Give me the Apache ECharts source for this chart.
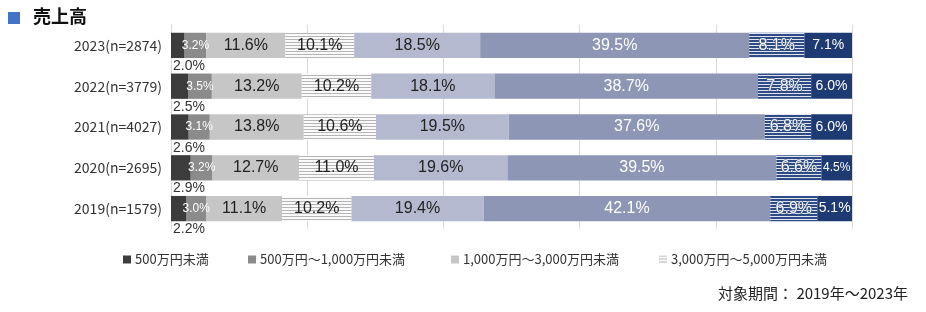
<!DOCTYPE html>
<html>
<head>
<meta charset="utf-8">
<style>
  html, body { margin: 0; padding: 0; background: #fff; }
  #main { width: 926px; height: 312px; }
</style>
</head>
<body>
<div id="main"></div>
<script src="https://cdn.jsdelivr.net/npm/echarts@6/dist/echarts.min.js"></script>
<script type="text/javascript">

    // 年ごとのカテゴリ
    var years = ['2023(n=2874)', '2022(n=3779)', '2021(n=4027)', '2020(n=2695)', '2019(n=1579)'];

    var seriesNames = ['500万円未満', '500万円～1,000万円未満', '1,000万円～3,000万円未満', '3,000万円～5,000万円未満',
        '5,000万円～1億円未満', '1億円～5億円未満', '5億円～10億円未満', '10億円以上'];

    var s1 = [2.0, 2.5, 2.6, 2.9, 2.2];
    var s2 = [3.2, 3.5, 3.1, 3.2, 3.0];
    var s3 = [11.6, 13.2, 13.8, 12.7, 11.1];
    var s4 = [10.1, 10.2, 10.6, 11.0, 10.2];
    var s5 = [18.5, 18.1, 19.5, 19.6, 19.4];
    var s6 = [39.5, 38.7, 37.6, 39.5, 42.1];
    var s7 = [8.1, 7.8, 6.8, 6.6, 6.9];
    var s8 = [7.1, 6.0, 6.0, 4.5, 5.1];

    // 横縞パターン
    function stripe(bg, line) {
        var c = document.createElement('canvas');
        c.width = 4; c.height = 3;
        var ctx = c.getContext('2d');
        ctx.fillStyle = bg;
        ctx.fillRect(0, 0, 4, 3);
        ctx.fillStyle = line;
        ctx.fillRect(0, 0, 4, 1);
        return { image: c, repeat: 'repeat' };
    }

    var FONT = '"Liberation Sans", Arial, sans-serif';
    var JP = '"Noto Sans CJK JP", sans-serif';

    function fmt(p) { return p.value.toFixed(1) + '%'; }

    function bar(name, data, color, label) {
        return {
            name: name,
            type: 'bar',
            stack: 'total',
            barWidth: '62%',
            data: data,
            itemStyle: { color: color },
            label: Object.assign({ show: true, formatter: fmt, fontFamily: FONT, fontSize: 16, color: '#222' }, label),
            emphasis: { disabled: true }
        };
    }

    var myChart = echarts.init(document.getElementById('main'));

    var legendLeft = [118, 243, 446, 654];
    var legends = [];
    for (var i = 0; i < 4; i++) {
        legends.push({
            data: [seriesNames[i]],
            left: legendLeft[i],
            top: 248,
            icon: 'rect',
            itemWidth: 8,
            itemHeight: 8,
            itemGap: 4,
            selectedMode: false,
            textStyle: { fontFamily: JP, fontSize: 13, color: '#333', padding: [0, 0, 0, -1] }
        });
    }

    // 10億円以上：幅の狭いバーは文字を小さく
    var s8Data = s8.map(function (v) {
        return v < 5 ? { value: v, label: { fontSize: 12 } } : v;
    });

    var option = {
        animation: false,
        legend: legends,
        grid: { left: 171, right: 74, top: 25, bottom: 83, containLabel: false },
        xAxis: {
            type: 'value',
            min: 0,
            max: 100,
            interval: 20,
            axisLabel: { show: false },
            axisLine: { show: false },
            axisTick: { show: false },
            splitLine: { show: true, lineStyle: { color: '#d9d9d9', width: 1 } }
        },
        yAxis: {
            type: 'category',
            inverse: true,
            data: years,
            axisLine: { show: true, lineStyle: { color: '#d9d9d9' } },
            axisTick: { show: false },
            axisLabel: { fontFamily: JP, fontSize: 14, color: '#333', margin: 9 }
        },
        series: [
            bar(seriesNames[0], s1, '#3c3c3c', { position: ['0%', '100%'], align: 'left', verticalAlign: 'top', distance: 0, fontSize: 14, color: '#333', offset: [2, 1] }),
            bar(seriesNames[1], s2, '#8b8b8b', { position: 'inside', fontSize: 12, color: '#fff' }),
            bar(seriesNames[2], s3, '#c6c6c6', { position: 'inside' }),
            bar(seriesNames[3], s4, stripe('#fafafa', '#b5b5b5'), { position: 'inside' }),
            bar(seriesNames[4], s5, '#b4b9cf', { position: 'inside' }),
            bar(seriesNames[5], s6, '#8d97b5', { position: 'inside', color: '#fff' }),
            bar(seriesNames[6], s7, stripe('#2e4b86', '#dfe4ee'), { position: 'inside', color: '#fff', textBorderColor: '#2e4b86', textBorderWidth: 1 }),
            bar(seriesNames[7], s8Data, '#1e3a72', { position: 'inside', color: '#fff', fontSize: 14 })
        ],
        graphic: [
            { type: 'rect', left: 8, top: 12, shape: { width: 12, height: 12 }, style: { fill: '#4472c4' } },
            { type: 'text', left: 33, top: 7, style: { text: '売上高', font: 'bold 18px "Noto Sans CJK JP"', fill: '#111' } },
            { type: 'text', right: 18, top: 286, style: { text: '対象期間： 2019年～2023年', font: '15px "Noto Sans CJK JP"', fill: '#222' } }
        ]
    };

    myChart.setOption(option);
</script>
</body>
</html>
